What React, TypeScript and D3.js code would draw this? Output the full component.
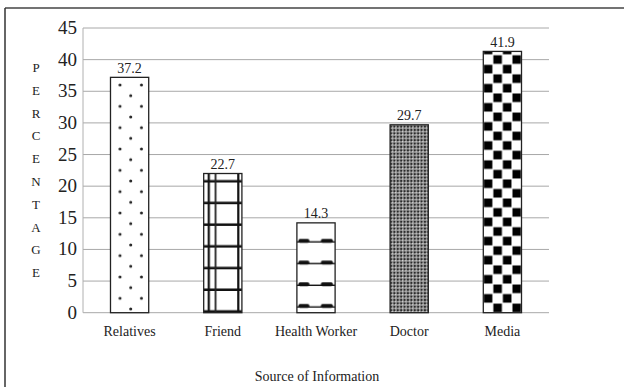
import React from "react";
import * as d3 from "d3";

const categories = ["Relatives", "Friend", "Health Worker", "Doctor", "Media"];
const barValues = [37.2, 22.0, 14.2, 29.7, 41.3];
const valueLabels = ["37.2", "22.7", "14.3", "29.7", "41.9"];
const yTicks = [0, 5, 10, 15, 20, 25, 30, 35, 40, 45];
const yTitle = "PERCENTAGE".split("");
const xTitle = "Source of Information";

const W = 624, H = 387;
const left = 83, right = 549, top = 28, bottom = 312.7;
const FONT = "Liberation Serif, Times New Roman, serif";
const tstyle = { fontFamily: FONT };

export default function App() {
  const x = d3.scaleBand<string>().domain(categories).range([left, right]).paddingInner(0.59).paddingOuter(0.295);
  const y = d3.scaleLinear().domain([0, 45]).range([bottom, top]);
  const bw = x.bandwidth();
  const period = (y(0) - y(5)) / 1.458; // ~21.7px pattern period
  const dotPeriod = 21.33;

  const patterns = categories.map((c, i) => {
    const bx = x(c)!;
    const id = `pat${i}`;
    if (i === 0) {
      return (
        <pattern key={id} id={id} patternUnits="userSpaceOnUse" x={bx} y={bottom - 14.4} width={bw} height={dotPeriod}>
          <rect width={bw} height={dotPeriod} fill="#fff" />
          <circle cx={bw * 0.25} cy={0} r={1.5} fill="#222" />
          <circle cx={bw * 0.81} cy={0} r={1.5} fill="#222" />
          <circle cx={bw * 0.25} cy={dotPeriod} r={1.5} fill="#222" />
          <circle cx={bw * 0.81} cy={dotPeriod} r={1.5} fill="#222" />
          <circle cx={bw * 0.53} cy={dotPeriod * 0.5} r={1.5} fill="#222" />
        </pattern>
      );
    }
    if (i === 1) {
      return (
        <pattern key={id} id={id} patternUnits="userSpaceOnUse" x={bx} y={bottom} width={bw} height={period}>
          <rect width={bw} height={period} fill="#fff" />
          <rect x={0} y={period - 2.5} width={bw} height={2.5} fill="#111" />
          <rect x={4} y={0} width={2.2} height={period} fill="#111" />
          <rect x={11} y={0} width={1.8} height={period} fill="#222" />
          <rect x={33.5} y={0} width={2.2} height={period} fill="#111" />
        </pattern>
      );
    }
    if (i === 2) {
      return (
        <pattern key={id} id={id} patternUnits="userSpaceOnUse" x={bx} y={bottom - 4} width={bw} height={period}>
          <rect width={bw} height={period} fill="#fff" />
          <rect x={0} y={period - 2.4} width={bw} height={1.4} fill="#111" />
          <rect x={1.5} y={period - 4.6} width={11} height={3.8} rx={1.6} fill="#111" />
          <rect x={24} y={period - 4.6} width={12} height={3.8} rx={1.6} fill="#111" />
        </pattern>
      );
    }
    if (i === 3) {
      return (
        <pattern key={id} id={id} patternUnits="userSpaceOnUse" x={bx} y={bottom} width={3.4} height={3.4}>
          <rect width={3.4} height={3.4} fill="#8a8a8a" />
          <rect x={0} y={0} width={1.7} height={1.7} fill="#2a2a2a" />
          <rect x={1.7} y={1.7} width={1.2} height={1.2} fill="#dcdcdc" />
        </pattern>
      );
    }
    const s = bw / 4;
    return (
      <pattern key={id} id={id} patternUnits="userSpaceOnUse" x={bx} y={bottom} width={2 * s} height={2 * s}>
        <rect width={2 * s} height={2 * s} fill="#fff" />
        <rect x={0.5} y={0.5} width={s - 1} height={s - 1} fill="#000" />
        <rect x={s + 0.5} y={s + 0.5} width={s - 1} height={s - 1} fill="#000" />
      </pattern>
    );
  });

  return (
    <svg width={W} height={H} style={{ position: "absolute", left: 0, top: 0, background: "#fff" }}>
      <defs>{patterns}</defs>
      <rect width={W} height={H} fill="#fff" />
      {/* frame */}
      <line x1={5} x2={W} y1={8} y2={8} stroke="#444" strokeWidth={1.5} />
      <line x1={5} x2={5} y1={8} y2={H} stroke="#333" strokeWidth={1.5} />

      {/* gridlines */}
      {yTicks.map((t) => (
        <line key={t} x1={left} x2={right} y1={y(t)} y2={y(t)} stroke="#a8a8a8" strokeWidth={1} />
      ))}
      <line x1={left} x2={left} y1={top} y2={bottom} stroke="#b0b0b0" strokeWidth={1} />

      {/* tick labels */}
      {yTicks.map((t) => (
        <text key={t} x={77} y={y(t) + 6} textAnchor="end" fontSize={19} fill="#222" style={tstyle}>
          {t}
        </text>
      ))}

      {/* y title */}
      {yTitle.map((ch, i) => (
        <text key={i} x={36} y={72 + i * 22.8} textAnchor="middle" fontSize={13} fill="#222" style={tstyle}>
          {ch}
        </text>
      ))}

      {/* bars */}
      {categories.map((c, i) => (
        <rect
          key={c}
          x={x(c)!}
          y={y(barValues[i])}
          width={bw}
          height={y(0) - y(barValues[i])}
          fill={`url(#pat${i})`}
          stroke="#222"
          strokeWidth={1.3}
        />
      ))}

      {/* value labels */}
      {categories.map((c, i) => (
        <text key={c} x={x(c)! + bw / 2} y={y(barValues[i]) - 4.5} textAnchor="middle" fontSize={14} fill="#222" style={tstyle}>
          {valueLabels[i]}
        </text>
      ))}

      {/* category labels */}
      {categories.map((c) => (
        <text key={c} x={x(c)! + bw / 2} y={336} textAnchor="middle" fontSize={14} fill="#222" style={tstyle}>
          {c}
        </text>
      ))}

      <text x={317} y={381} textAnchor="middle" fontSize={14} fill="#222" style={tstyle}>
        {xTitle}
      </text>
    </svg>
  );
}
